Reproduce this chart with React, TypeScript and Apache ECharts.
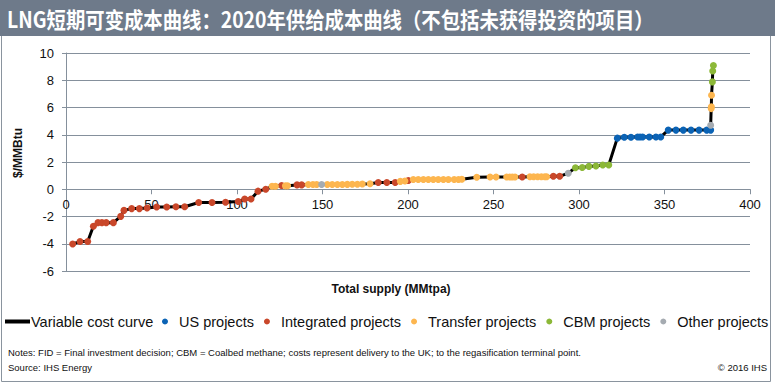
import React, { useEffect, useRef } from "react";
import * as echarts from "echarts";

const xTicks = [0, 50, 100, 150, 200, 250, 300, 350, 400];
const yTicks = [-6, -4, -2, 0, 2, 4, 6, 8, 10];

const usProjects: [number, number][] = [
  [322.4, 3.75], [326.5, 3.82], [330.4, 3.82], [334.3, 3.84], [335.7, 3.84], [337.2, 3.84],
  [341.1, 3.84], [345, 3.84], [347.8, 3.84], [352.2, 4.34], [356.7, 4.34], [361, 4.34],
  [365.5, 4.34], [370.2, 4.34], [374.7, 4.34], [377, 4.34],
];

const integratedProjects: [number, number][] = [
  [3.9, -4.02], [8.2, -3.84], [12.7, -3.84], [16, -2.72], [18.7, -2.45], [21, -2.45],
  [23.5, -2.45], [27.7, -2.45], [32, -1.99], [33.9, -1.55], [38.4, -1.42], [42.9, -1.42],
  [47.4, -1.37], [53, -1.3], [58.9, -1.3], [64.3, -1.28], [69.4, -1.28], [77.6, -0.97],
  [85.4, -0.97], [93.3, -0.96], [100.7, -0.9], [104.5, -0.72], [108.2, -0.72], [112.3, -0.14],
  [116.8, 0.0], [126.1, 0.27], [135.1, 0.32], [137.8, 0.32], [182.6, 0.5], [187.6, 0.5],
  [192.5, 0.5], [200.2, 0.64], [266.8, 0.9], [285, 0.95], [288.7, 0.95],
];

const transferProjects: [number, number][] = [
  [120.5, 0.22], [122.5, 0.22], [128.3, 0.25], [129.6, 0.25], [141.7, 0.35], [144.4, 0.35],
  [146.6, 0.35], [152.8, 0.35], [155.7, 0.35], [158.7, 0.35], [161.6, 0.35], [164.5, 0.36],
  [167.4, 0.37], [170.4, 0.37], [173.3, 0.38], [177.8, 0.4], [195.5, 0.58], [198.2, 0.6],
  [203.1, 0.72], [206, 0.72], [209, 0.72], [211.9, 0.72], [214.8, 0.72], [217.7, 0.72],
  [220.7, 0.72], [223.6, 0.72], [227, 0.72], [229.5, 0.72], [231.5, 0.73], [240.2, 0.88],
  [248, 0.9], [251.5, 0.9], [257.7, 0.9], [259.5, 0.9], [261, 0.9], [262.6, 0.9],
  [271.3, 0.92], [273.5, 0.92], [275.8, 0.92], [278, 0.92], [280, 0.92], [281.1, 0.92],
  [377.3, 5.92], [377.4, 6.05], [377.5, 6.9],
];

const cbmProjects: [number, number][] = [
  [297.9, 1.58], [301.9, 1.6], [305.8, 1.68], [309.9, 1.71], [313.9, 1.78], [317.4, 1.78],
  [378, 7.88], [378.2, 8.68], [378.6, 9.08],
];

const otherProjects: [number, number][] = [
  [149.5, 0.35], [293.7, 1.18], [377, 4.7],
];

const legendNames = ["US projects", "Integrated projects", "Transfer projects", "CBM projects", "Other projects"];
const colors = ["#0B63B5", "#C9472A", "#FDB64F", "#8CB838", "#A5ABB1"];

const titleText = "LNG短期可变成本曲线：2020年供给成本曲线（不包括未获得投资的项目）";
const notesText =
  "Notes: FID = Final investment decision; CBM = Coalbed methane; costs represent delivery to the UK; to the regasification terminal point.";
const sourceText = "Source: IHS Energy";
const copyrightText = "© 2016 IHS";

export default function App() {
  const ref = useRef<HTMLDivElement>(null);
  useEffect(() => {
    if (!ref.current) return;
    const chart = echarts.init(ref.current, null, { renderer: "svg" });
    const allSets = [usProjects, integratedProjects, transferProjects, cbmProjects, otherProjects];
    const curve = allSets
      .flat()
      .slice()
      .sort((a, b) => (a[0] - b[0]) || (a[1] - b[1]));
    const font = "Liberation Sans, Arial, sans-serif";
    const gridColor = "#85909C";
    const gridTop = 53;
    const gridHeight = 218;
    const yMin = yTicks[0];
    const yMax = yTicks[yTicks.length - 1];
    // distance from the grid's bottom edge to the y = 0 line
    const zeroOffset = (gridHeight * (0 - yMin)) / (yMax - yMin);
    chart.setOption({
      animation: false,
      backgroundColor: "#fff",
      grid: { left: 66, right: 25, top: gridTop, height: gridHeight },
      xAxis: {
        type: "value",
        min: xTicks[0],
        max: xTicks[xTicks.length - 1],
        interval: 50,
        position: "bottom",
        offset: -zeroOffset,
        axisLine: { onZero: false, lineStyle: { color: gridColor, width: 1 } },
        axisTick: { show: true, length: 5, lineStyle: { color: gridColor } },
        splitLine: { show: false },
        axisLabel: { color: "#111", fontSize: 13, fontFamily: font, margin: 9 },
      },
      yAxis: {
        type: "value",
        min: yMin,
        max: yMax,
        interval: 2,
        axisLine: { show: true, onZero: false, lineStyle: { color: gridColor, width: 1 } },
        axisTick: { show: true, length: 4, lineStyle: { color: gridColor } },
        splitLine: { show: true, lineStyle: { color: gridColor, width: 1 } },
        axisLabel: { color: "#111", fontSize: 13, fontFamily: font, margin: 12 },
      },
      legend: [
        {
          data: [{ name: "Variable cost curve", icon: "rect" }],
          left: 5,
          top: 314,
          itemWidth: 25,
          itemHeight: 4,
          padding: 0,
          textStyle: { fontSize: 14.5, fontFamily: font, color: "#111", padding: [0, 0, 0, -4] },
        },
        {
          data: legendNames.map((n) => ({ name: n, icon: "circle" })),
          left: 162,
          top: 314,
          itemWidth: 18,
          itemHeight: 6,
          itemGap: 10,
          padding: 0,
          textStyle: { fontSize: 14.5, fontFamily: font, color: "#111" },
        },
      ],
      series: [
        {
          name: "Variable cost curve",
          type: "line",
          data: curve,
          showSymbol: false,
          symbol: "none",
          color: "#000",
          lineStyle: { color: "#000", width: 3 },
          z: 1,
        },
        ...legendNames.map((n, i) => ({
          name: n,
          type: "scatter",
          data: allSets[i],
          symbolSize: 7,
          color: colors[i],
          itemStyle: { color: colors[i], opacity: 1 },
          z: 2 + i,
        })),
      ],
      graphic: [
        { type: "rect", shape: { x: 0, y: 0, width: 775, height: 36 }, style: { fill: "#6E7A8A" }, silent: true },
        {
          type: "text",
          x: 7,
          y: 18,
          scaleX: 0.88,
          style: {
            text: titleText,
            fill: "#fff",
            font: 'bold 22px "Noto Sans CJK SC", sans-serif',
            verticalAlign: "middle",
            align: "left",
          },
        },
        { type: "line", shape: { x1: 1.5, y1: 36, x2: 1.5, y2: 381.5 }, style: { stroke: "#8A949E", lineWidth: 1 } },
        { type: "line", shape: { x1: 770.5, y1: 36, x2: 770.5, y2: 381.5 }, style: { stroke: "#8A949E", lineWidth: 1 } },
        { type: "line", shape: { x1: 1.5, y1: 381.5, x2: 770.5, y2: 381.5 }, style: { stroke: "#8A949E", lineWidth: 1 } },
        {
          type: "text",
          x: 18,
          y: 153,
          rotation: Math.PI / 2,
          style: {
            text: "$/MMBtu",
            fill: "#111",
            font: `bold 12px ${font}`,
            align: "center",
            verticalAlign: "middle",
          },
        },
        {
          type: "text",
          x: 391,
          y: 289,
          style: {
            text: "Total supply (MMtpa)",
            fill: "#111",
            font: `bold 12px ${font}`,
            align: "center",
            verticalAlign: "middle",
          },
        },
        {
          type: "text",
          x: 8,
          y: 352,
          style: { text: notesText, fill: "#111", font: `9.5px ${font}`, verticalAlign: "middle" },
        },
        {
          type: "text",
          x: 8,
          y: 367,
          style: { text: sourceText, fill: "#111", font: `9.5px ${font}`, verticalAlign: "middle" },
        },
        {
          type: "text",
          x: 767,
          y: 367,
          style: { text: copyrightText, fill: "#111", font: `9.5px ${font}`, verticalAlign: "middle", align: "right" },
        },
      ],
    });
    return () => chart.dispose();
  }, []);
  return <div ref={ref} style={{ position: "absolute", left: 0, top: 0, width: 775, height: 383 }} />;
}
